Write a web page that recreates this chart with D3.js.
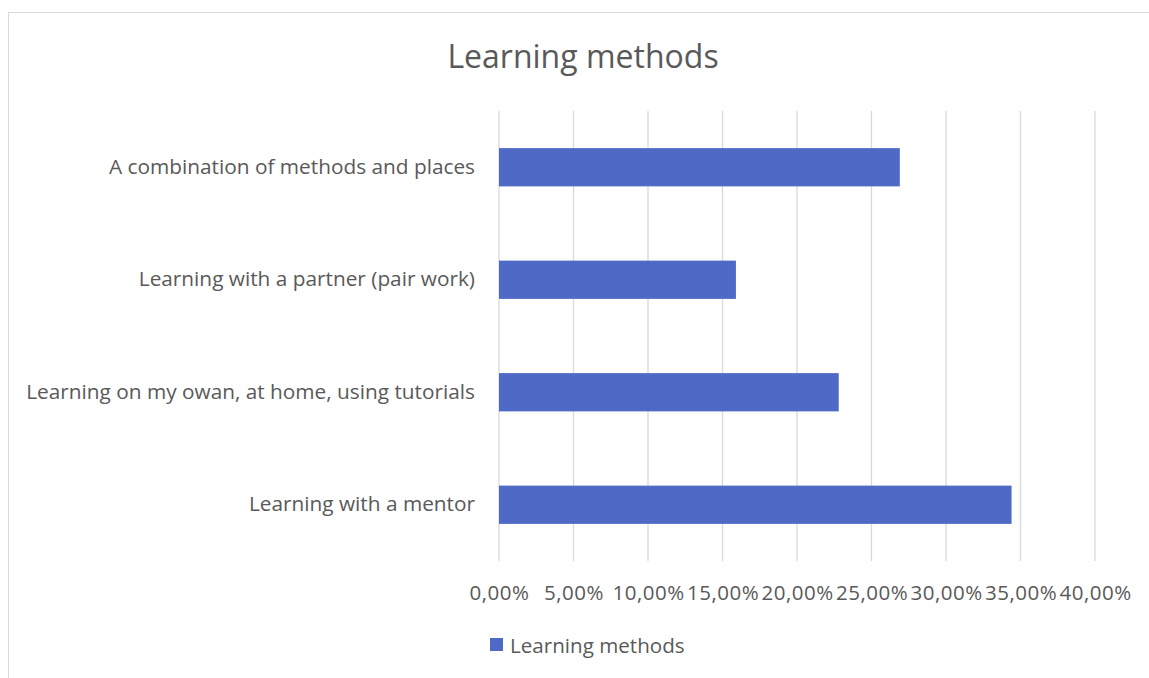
<!DOCTYPE html>
<html>
<head>
<meta charset="utf-8">
<script src="https://cdn.jsdelivr.net/npm/d3@7"></script>
<style>
  body { margin: 0; background: #fff; }
  svg text { font-family: "Open Sans", Lato, sans-serif; fill: #595959; }
</style>
</head>
<body>
<svg id="chart" width="1149" height="678"></svg>
<script>
// chart data
var categories = [
  'A combination of methods and places',
  'Learning with a partner (pair work)',
  'Learning on my owan, at home, using tutorials',
  'Learning with a mentor'
];
var values = [0.269, 0.159, 0.228, 0.344];
var ticks = [0, 0.05, 0.10, 0.15, 0.20, 0.25, 0.30, 0.35, 0.40];
var seriesName = 'Learning methods';
var title = 'Learning methods';

var svg = d3.select('#chart');
var W = 1149, H = 678;
var m = {left: 499, right: 54, top: 111, bottom: 117};
var font = '"Open Sans", Lato, sans-serif';

// chart frame
svg.append('rect')
  .attr('x', 8.5).attr('y', 12.5)
  .attr('width', W + 10).attr('height', H)
  .attr('fill', 'none').attr('stroke', '#d9d9d9');

svg.append('text')
  .attr('x', 583).attr('y', 68)
  .attr('text-anchor', 'middle')
  .attr('font-size', 32)
  .text(title);

var x = d3.scaleLinear().domain([0, 0.40]).range([m.left, W - m.right]);
var y = d3.scaleBand().domain(categories).range([m.top, H - m.bottom]).paddingInner(0.66).paddingOuter(0.33);

// gridlines
svg.append('g').selectAll('line').data(ticks).join('line')
  .attr('x1', function(d) { return x(d); }).attr('x2', function(d) { return x(d); })
  .attr('y1', m.top).attr('y2', H - m.bottom)
  .attr('stroke', '#d9d9d9').attr('stroke-width', 1.3);

// bars
svg.append('g').selectAll('rect').data(values).join('rect')
  .attr('x', x(0))
  .attr('y', function(d, i) { return y(categories[i]); })
  .attr('width', function(d) { return x(d) - x(0); })
  .attr('height', y.bandwidth())
  .attr('fill', '#4f69c6');

// category labels
var yAxis = d3.axisLeft(y).tickSize(0).tickPadding(24);
var gy = svg.append('g').attr('transform', 'translate(' + x(0) + ',0)').call(yAxis);
gy.select('.domain').remove();
gy.selectAll('text').attr('font-size', 20.8).attr('fill', '#595959').style('font-family', font);

// value labels
var fmt = function(d) { return (d * 100).toFixed(2).replace('.', ',') + '%'; };
var xAxis = d3.axisBottom(x).tickValues(ticks).tickFormat(fmt).tickSize(0).tickPadding(24);
var gx = svg.append('g').attr('transform', 'translate(0,' + (H - m.bottom) + ')').call(xAxis);
gx.select('.domain').remove();
gx.selectAll('text').attr('font-size', 20.5).attr('fill', '#595959').style('font-family', font)
  .attr('letter-spacing', 0.5);

// legend
var lg = svg.append('g').attr('transform', 'translate(490,638)');
lg.append('rect').attr('width', 13).attr('height', 13).attr('fill', '#4f69c6');
lg.append('text').attr('x', 20).attr('y', 15).attr('font-size', 20.6).text(seriesName);
</script>
</body>
</html>
